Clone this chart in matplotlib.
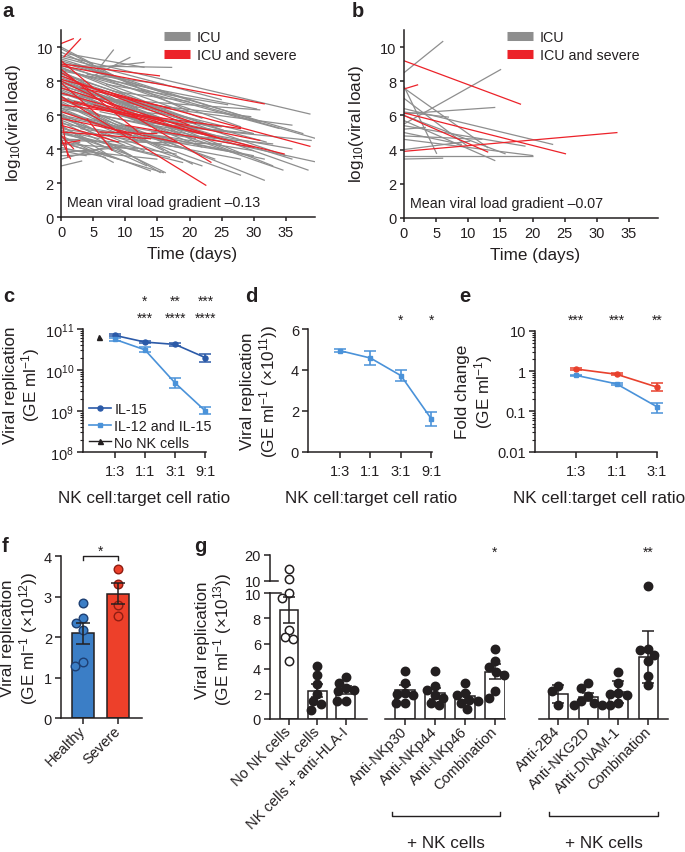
import numpy as np
import matplotlib
matplotlib.use("Agg")
import matplotlib.pyplot as plt
from matplotlib.lines import Line2D
from matplotlib.ticker import LogLocator, NullFormatter

plt.rcParams['font.family'] = ['Liberation Sans', 'DejaVu Sans']
plt.rcParams['mathtext.fontset'] = 'custom'
plt.rcParams['mathtext.rm'] = 'Liberation Sans'
plt.rcParams['mathtext.it'] = 'Liberation Sans:italic'
plt.rcParams['mathtext.bf'] = 'Liberation Sans:bold'
INK = '#231f20'
plt.rcParams['text.color'] = INK
plt.rcParams['axes.edgecolor'] = INK
plt.rcParams['axes.labelcolor'] = INK
plt.rcParams['xtick.color'] = INK
plt.rcParams['ytick.color'] = INK
plt.rcParams['axes.linewidth'] = 1.1
for k in ['xtick', 'ytick']:
    plt.rcParams[k + '.major.width'] = 1.1
    plt.rcParams[k + '.minor.width'] = 0.8
    plt.rcParams[k + '.labelsize'] = 10.5

# ---------------- data ----------------
# panels a/b: viral load trajectories (start day, start log10, end day, end log10)
icu_a = [
    (0, 9.9, 12, 7.6), (0, 9.7, 20, 6.2), (0, 9.5, 38.8, 6.05), (0, 9.4, 25, 6.9),
    (0, 9.3, 31, 5.6), (0, 9.2, 17, 7.2), (0, 9.1, 37.7, 4.9), (0, 9.0, 28, 5.3),
    (0, 8.9, 39.8, 4.6), (0, 8.8, 22, 5.8), (0, 8.8, 15, 6.5), (0, 8.7, 34, 5.2),
    (0, 8.6, 30.5, 6.35), (0, 8.5, 26, 5.0), (0, 8.4, 10, 7.2), (0, 8.3, 19, 5.9),
    (0, 8.2, 35, 3.6), (0, 8.1, 24, 4.6), (0, 8.0, 12, 6.4), (5.6, 8.6, 8.2, 9.85),
    (4.5, 8.2, 10.8, 9.4), (6.0, 8.8, 13, 9.1), (2, 8.9, 17.3, 8.8), (0, 7.9, 38.5, 2.75),
    (0, 7.8, 27, 3.8), (0, 7.7, 32, 4.4), (0, 7.6, 18, 4.8), (0, 7.5, 22, 4.1),
    (0, 7.4, 14, 5.3), (0, 7.3, 34.6, 2.75), (0, 7.2, 29.6, 5.9), (0, 7.1, 20.5, 3.1),
    (0, 7.0, 25, 5.0), (0, 6.9, 31.7, 2.15), (0, 6.8, 16, 3.9), (0, 6.7, 12, 4.5),
    (0, 6.6, 24, 3.4), (0, 6.5, 39.5, 3.25), (0, 6.4, 9, 5.0), (0, 6.3, 28, 2.45),
    (0, 6.2, 19, 4.3), (0, 6.1, 7, 4.8), (0, 6.0, 31.7, 3.4), (0, 6.0, 15.5, 2.6),
    (0, 5.9, 13, 3.9), (0, 5.8, 22, 3.0), (0, 5.7, 10, 4.2), (0, 5.6, 16.3, 2.6),
    (0, 5.5, 27, 3.8), (0, 5.4, 8, 3.5), (0, 5.3, 13.4, 3.0), (0, 5.2, 20, 4.0),
    (0, 5.1, 6, 4.6), (0, 5.0, 11, 3.6), (0, 4.9, 17, 3.5), (0, 4.8, 8.2, 3.2),
    (0, 4.7, 14, 2.7), (0, 4.6, 5, 4.5), (0, 4.5, 25, 4.3), (0, 4.4, 9, 3.4),
    (0, 4.3, 12, 4.0), (0, 4.2, 3, 4.4), (0, 4.1, 7, 3.5), (0, 4.0, 15, 3.4),
    (0, 3.9, 4, 3.6), (0, 3.8, 10, 4.1), (0, 3.6, 6, 3.7), (0, 3.0, 3.3, 3.3),
    (0, 3.4, 8, 4.2), (1, 8.0, 23, 5.4), (2, 7.5, 30, 4.9), (2, 6.8, 18, 5.2),
    (3, 7.2, 13, 5.6), (4, 6.5, 17, 6.0), (5, 7.0, 31, 6.3), (5, 5.8, 14, 4.6),
    (6, 6.2, 20, 5.1), (7, 7.8, 26, 6.6), (8, 6.8, 36, 5.4), (9, 5.4, 21, 4.6),
    (10, 6.0, 25, 5.3), (12, 5.6, 30, 4.9), (14, 5.0, 33, 4.3), (16, 5.4, 39, 4.5),
    (3, 5.2, 10, 4.8), (1, 9.6, 13, 8.8), (2, 9.0, 9, 8.2), (11, 4.6, 28, 3.4),
    (6, 4.4, 18, 3.7), (15, 4.8, 30, 3.9), (18, 5.2, 36, 4.0), (4, 8.4, 16, 7.8),
    (8, 7.4, 20, 6.8), (0, 10.0, 5, 9.0), (0, 8.6, 21, 4.4), (0, 7.0, 17, 4.2),
    (0, 6.4, 23, 4.8), (0, 5.9, 30, 3.6), (0, 5.0, 19, 3.2), (0, 4.4, 16, 2.6),
    (1, 7.0, 10, 4.9), (2, 6.0, 12, 4.4), (0, 8.0, 33, 3.0), (0, 7.6, 36, 3.4),
]
severe_a = [
    (0, 10.2, 2, 10.5), (0.4, 9.4, 3.1, 10.5), (0, 9.0, 15.4, 8.3), (0, 8.9, 31.7, 6.65),
    (0, 8.1, 38.8, 4.15), (0, 6.9, 34.8, 3.7), (0, 8.5, 23.4, 3.2), (0, 7.1, 22.6, 1.85),
    (0, 8.7, 12, 5.0), (0, 8.3, 20, 5.4), (0, 7.6, 25, 4.6), (0, 7.3, 16, 5.6),
    (0, 6.6, 28, 5.2), (0, 6.2, 11, 4.8), (0, 5.8, 18, 4.4), (0, 5.4, 9, 4.4),
    (0, 5.0, 14, 4.6), (0, 6.0, 1.1, 3.5), (0, 4.6, 1.5, 3.4), (0, 4.8, 2, 4.0),
    (0, 7.9, 6, 5.9), (0, 9.2, 5, 7.6), (2, 6.8, 13, 5.7), (3, 7.6, 17, 6.4),
    (5, 6.6, 24, 4.7), (7, 7.4, 21, 5.5), (9, 6.2, 31, 4.5), (10, 5.4, 30, 4.1),
    (4, 5.8, 8, 3.9), (0, 8.0, 10, 6.2), (6, 5.0, 15, 4.9), (0, 4.3, 3, 4.5),
]
icu_b = [
    (0, 8.5, 6.1, 10.35), (0, 5.5, 15.1, 8.7), (0, 6.1, 14.2, 6.47), (0, 7.6, 13.1, 4.1),
    (0, 6.4, 23.2, 4.3), (0, 6.0, 15.8, 3.75), (0, 5.7, 14.2, 3.35), (0, 7.0, 9.9, 4.2),
    (0, 7.7, 5.1, 3.75), (0, 4.6, 20.1, 3.65), (0, 3.65, 20, 3.65), (0, 3.45, 6.1, 3.5),
    (0, 5.2, 3.4, 5.3), (0, 4.8, 12.2, 4.6), (0, 4.0, 10.3, 4.5), (0, 5.4, 18.9, 4.2),
    (0, 6.2, 7, 5.9), (0, 5.0, 9, 4.3),
]
severe_b = [
    (0, 9.2, 18.2, 6.65), (0, 7.55, 2.2, 7.8), (0, 6.15, 25.2, 3.75), (0, 6.0, 13.1, 3.85),
    (0, 3.9, 33.2, 5.0),
]

# panel c: viral replication (GE/ml) vs NK:target ratio
ratios4 = ['1:3', '1:1', '3:1', '9:1']
il15 = [7.0e10, 4.8e10, 4.2e10, 2.0e10]
il15_lo = [6.6e10, 4.6e10, 3.9e10, 1.55e10]
il15_hi = [7.4e10, 5.0e10, 4.6e10, 2.5e10]
il12_15 = [5.6e10, 3.1e10, 4.8e9, 1.0e9]
il12_15_lo = [5.2e10, 2.7e10, 3.6e9, 0.85e9]
il12_15_hi = [6.0e10, 3.6e10, 6.3e9, 1.23e9]
no_nk_c = 6.3e10
stars_c_top = ['', '*', '**', '***']
stars_c_bot = ['', '***', '****', '****']

# panel d: viral replication (x10^11)
repl_d = [4.94, 4.58, 3.72, 1.6]
err_d = [0.08, 0.33, 0.28, 0.35]
stars_d = ['', '', '*', '*']

# panel e: fold change
ratios3 = ['1:3', '1:1', '3:1']
fold_red = [1.12, 0.83, 0.40]
fold_red_lo = [1.05, 0.78, 0.32]
fold_red_hi = [1.2, 0.88, 0.5]
fold_blue = [0.78, 0.48, 0.13]
fold_blue_lo = [0.74, 0.45, 0.093]
fold_blue_hi = [0.82, 0.51, 0.16]
stars_e = ['***', '***', '**']

# panel f: viral replication (x10^12)
groups_f = ['Healthy', 'Severe']
healthy_f = [2.85, 2.48, 2.35, 2.19, 1.40, 1.30]
severe_f = [3.68, 3.32, 2.80, 2.52]

# panel g: viral replication (x10^13)
labels_g1 = ['No NK cells', 'NK cells', 'NK cells + anti-HLA-I']
labels_g2 = ['Anti-NKp30', 'Anti-NKp44', 'Anti-NKp46', 'Combination']
labels_g3 = ['Anti-2B4', 'Anti-NKG2D', 'Anti-DNAM-1', 'Combination']
mean_g1 = [8.65, 2.25, 2.3]
err_g1 = [1.05, 0.5, 0.35]
mean_g2 = [2.3, 2.05, 1.8, 3.75]
err_g2 = [0.4, 0.45, 0.25, 0.6]
mean_g3 = [1.98, 1.75, 2.15, 4.95]
err_g3 = [0.73, 0.3, 0.9, 2.05]
pts_g1 = [[14.5, 10.6, 10.0, 9.6, 7.1, 6.5, 6.4, 4.6],
          [4.2, 3.5, 2.8, 2.0, 1.4, 1.2, 0.75],
          [3.35, 2.9, 2.45, 2.3, 2.2, 1.45, 1.4]]
pts_g2 = [[3.8, 2.9, 2.1, 2.0, 1.9, 1.3, 1.3],
          [3.8, 2.6, 2.3, 1.9, 1.7, 1.3, 1.1],
          [2.85, 2.1, 1.9, 1.5, 1.4, 1.3, 0.8],
          [5.6, 4.6, 4.1, 3.7, 3.5, 2.2, 1.7]]
pts_g3 = [[2.65, 2.2, 1.1],
          [2.85, 2.5, 1.8, 1.4, 1.3, 1.1, 1.1],
          [3.7, 2.9, 2.1, 2.0, 1.9, 1.3, 1.1],
          [10.6, 5.6, 5.5, 5.1, 4.6, 3.45, 2.7]]
stars_g2 = ['', '', '', '*']
stars_g3 = ['', '', '', '**']

# ---------------- styling ----------------
GRAY = '#8e8e8e'
RED = '#ec2229'
DARKBLUE = '#2b5aa8'
LIGHTBLUE = '#4a92d9'
ERED = '#e8412d'
FBLUE = '#3b7ec6'
FRED = '#ed402a'
LABEL_FS = 12.3
W, H = 685, 853

fig = plt.figure(figsize=(W / 100, H / 100), dpi=100)


def px_axes(x0, y0, x1, y1):
    ax = fig.add_axes([x0 / W, 1 - y1 / H, (x1 - x0) / W, (y1 - y0) / H])
    ax.patch.set_visible(False)
    for s in ['top', 'right']:
        ax.spines[s].set_visible(False)
    return ax


def panel_letter(x, y, s):
    fig.text(x / W, 1 - y / H, s, fontsize=14.5, fontweight='bold', va='baseline', ha='left')


def swarm(ax, x0, vals, diam):
    tr = ax.transData
    unit = tr.transform((x0 + 1, 0))[0] - tr.transform((x0, 0))[0]
    pts, xs = [], []
    for v in vals:
        y = tr.transform((x0, v))[1]
        cands = [0.0]
        for px, py in pts:
            dy = abs(y - py)
            if dy < diam:
                dx = np.sqrt(diam ** 2 - dy ** 2)
                cands += [px + dx, px - dx]
        cands.sort(key=lambda c: (round(abs(c), 3), c))
        for c in cands:
            if all((c - px) ** 2 + (y - py) ** 2 >= diam ** 2 - 1e-6 for px, py in pts):
                break
        pts.append((c, y))
        xs.append(x0 + c / unit)
    return xs


# ---------------- panels a, b ----------------
def trajectories(ax, icu, severe, grad):
    for t0, v0, t1, v1 in icu:
        ax.plot([t0, t1], [v0, v1], color=GRAY, lw=0.9, solid_capstyle='butt')
    for t0, v0, t1, v1 in severe:
        ax.plot([t0, t1], [v0, v1], color=RED, lw=0.9, solid_capstyle='butt')
    ax.set_xlim(0, 39.5)
    ax.set_ylim(0, 11)
    ax.set_xticks(range(0, 36, 5))
    ax.set_yticks(range(0, 11, 2))
    ax.tick_params(axis='both', length=3, pad=2.5)
    ax.set_xlabel('Time (days)', fontsize=LABEL_FS)
    ax.set_ylabel('log$_{10}$(viral load)', fontsize=LABEL_FS)
    ax.xaxis.set_label_coords(0.515, -0.155)
    ax.yaxis.set_label_coords(-0.15, 0.505)
    handles = [Line2D([], [], color=GRAY, lw=6.5, solid_capstyle='butt'),
               Line2D([], [], color=RED, lw=6.5, solid_capstyle='butt')]
    ax.legend(handles, ['ICU', 'ICU and severe'], loc='upper left',
              bbox_to_anchor=(0.405, 1.0), frameon=False, fontsize=10.3,
              handlelength=1.85, handletextpad=0.45, borderaxespad=0,
              borderpad=0, labelspacing=0.3)
    ax.text(0.022, 0.08, 'Mean viral load gradient \u2013' + grad, transform=ax.transAxes,
            va='center', ha='left', fontsize=10.3)


ax_a = px_axes(61, 31, 315, 218)
trajectories(ax_a, icu_a, severe_a, '0.13')
ax_b = px_axes(404, 31, 658, 219)
trajectories(ax_b, icu_b, severe_b, '0.07')
panel_letter(2.5, 16.7, 'a')
panel_letter(352, 16.7, 'b')


def ratio_axis(ax, labels):
    pos = np.arange(1, len(labels) + 1)
    ax.set_xticks(pos)
    ax.set_xticklabels(labels)
    ax.set_xlim(-0.05, len(labels) + 0.02)
    ax.tick_params(axis='x', length=4.5, pad=4)
    ax.tick_params(axis='y', which='major', length=4, pad=2.5)
    ax.set_xlabel('NK cell:target cell ratio', fontsize=LABEL_FS)
    return pos


def star_row(ax, pos, marks, yfrac):
    for x, s in zip(pos, marks):
        if s:
            ax.text(x, yfrac, s, transform=ax.get_xaxis_transform(), ha='center',
                    va='baseline', fontsize=10)


# ---------------- panel c ----------------
ax_c = px_axes(83, 330, 206, 453)
pos = ratio_axis(ax_c, ratios4)
ax_c.set_yscale('log')
ax_c.set_ylim(1e8, 1e11)
ax_c.yaxis.set_major_locator(LogLocator(base=10, numticks=10))
ax_c.yaxis.set_minor_locator(LogLocator(base=10, subs=np.arange(2, 10), numticks=10))
ax_c.yaxis.set_minor_formatter(NullFormatter())
ax_c.tick_params(axis='y', which='minor', length=2)
il15_a = np.array(il15)
il12_a = np.array(il12_15)
ax_c.errorbar(pos, il15_a, yerr=[il15_a - np.array(il15_lo), np.array(il15_hi) - il15_a],
              color=DARKBLUE, marker='o', ms=3.6, lw=1.2, capsize=4, capthick=1.1, clip_on=False)
ax_c.errorbar(pos, il12_a, yerr=[il12_a - np.array(il12_15_lo), np.array(il12_15_hi) - il12_a],
              color=LIGHTBLUE, marker='s', ms=3.4, lw=1.2, capsize=4, capthick=1.1, clip_on=False)
ax_c.plot([0.48], [no_nk_c], marker='^', color=INK, ms=3.6, ls='none', clip_on=False)
ax_c.set_ylabel('Viral replication\n(GE ml$^{-1}$)', fontsize=LABEL_FS, linespacing=1.1)
ax_c.yaxis.set_label_coords(-0.33, 0.55)
ax_c.xaxis.set_label_coords(0.5, -0.31)
hc = [Line2D([], [], color=DARKBLUE, marker='o', ms=3.6, lw=1.2),
      Line2D([], [], color=LIGHTBLUE, marker='s', ms=3.4, lw=1.2),
      Line2D([], [], color=INK, marker='^', ms=3.6, lw=1.0)]
ax_c.legend(hc, ['IL-15', 'IL-12 and IL-15', 'No NK cells'], loc='lower left',
            bbox_to_anchor=(0.05, 0.02), frameon=False, fontsize=10.4, handlelength=1.5,
            handletextpad=0.25, borderaxespad=0, borderpad=0, labelspacing=0.18)
star_row(ax_c, pos, stars_c_top, 1.2)
star_row(ax_c, pos, stars_c_bot, 1.055)
panel_letter(3, 301.7, 'c')

# ---------------- panel d ----------------
ax_d = px_axes(308, 330, 432, 452.7)
pos = ratio_axis(ax_d, ratios4)
ax_d.set_ylim(0, 6)
ax_d.set_yticks([0, 2, 4, 6])
ax_d.errorbar(pos, repl_d, yerr=err_d, color=LIGHTBLUE, marker='s', ms=3.4, lw=1.2,
              capsize=4, capthick=1.1, clip_on=False)
ax_d.set_ylabel('Viral replication\n(GE ml$^{-1}$ (\u00d710$^{11}$))', fontsize=LABEL_FS,
                linespacing=1.1)
ax_d.yaxis.set_label_coords(-0.225, 0.5)
ax_d.xaxis.set_label_coords(0.51, -0.31)
star_row(ax_d, pos, stars_d, 1.045)
panel_letter(245, 301.7, 'd')

# ---------------- panel e ----------------
ax_e = px_axes(535, 331.7, 657, 452.7)
pos = ratio_axis(ax_e, ratios3)
ax_e.set_xlim(-0.02, 3.0)
ax_e.set_yscale('log')
ax_e.set_ylim(0.01, 10)
ax_e.set_yticks([0.01, 0.1, 1, 10])
ax_e.set_yticklabels(['0.01', '0.1', '1', '10'])
ax_e.yaxis.set_minor_locator(LogLocator(base=10, subs=np.arange(2, 10), numticks=10))
ax_e.yaxis.set_minor_formatter(NullFormatter())
ax_e.tick_params(axis='y', which='minor', length=2)
fr = np.array(fold_red)
fb = np.array(fold_blue)
ax_e.errorbar(pos, fr, yerr=[fr - np.array(fold_red_lo), np.array(fold_red_hi) - fr],
              color=ERED, marker='o', ms=3.6, lw=1.2, capsize=4, capthick=1.1, clip_on=False)
ax_e.errorbar(pos, fb, yerr=[fb - np.array(fold_blue_lo), np.array(fold_blue_hi) - fb],
              color=LIGHTBLUE, marker='s', ms=3.4, lw=1.2, capsize=4, capthick=1.1, clip_on=False)
ax_e.set_ylabel('Fold change\n(GE ml$^{-1}$)', fontsize=LABEL_FS, linespacing=1.1)
ax_e.yaxis.set_label_coords(-0.33, 0.5)
ax_e.xaxis.set_label_coords(0.525, -0.315)
star_row(ax_e, pos, stars_e, 1.06)
panel_letter(459, 301.7, 'e')

# ---------------- panel f ----------------
ax_f = px_axes(61, 557.3, 141.7, 719.3)
xf = np.arange(len(groups_f))
f_sets = [healthy_f, severe_f]
f_cols = [FBLUE, FRED]
f_edges = ['#1d3f73', '#8e1d12']
means_f = [np.mean(v) for v in f_sets]
sems_f = [np.std(v, ddof=1) / np.sqrt(len(v)) for v in f_sets]
ax_f.set_xlim(-0.637, 1.669)
ax_f.set_ylim(0, 4)
ax_f.bar(xf, means_f, width=0.63, color=f_cols, edgecolor=INK, lw=1.1, zorder=1)
for i, vals in enumerate(f_sets):
    xs = swarm(ax_f, xf[i], vals, 9.0)
    ax_f.plot(xs, vals, 'o', ms=6.2, mfc=f_cols[i], mec=f_edges[i], mew=1.0,
              zorder=2, clip_on=False)
ax_f.errorbar(xf, means_f, yerr=sems_f, fmt='none', ecolor=INK, elinewidth=1.1,
              capsize=5, capthick=1.1, zorder=3)
ax_f.set_yticks([0, 1, 2, 3, 4])
ax_f.set_xticks(xf)
ax_f.set_xticklabels(groups_f, rotation=45, ha='right', va='center', rotation_mode='anchor')
ax_f.tick_params(axis='y', length=4, pad=2.5)
ax_f.tick_params(axis='x', length=4, pad=3)
ax_f.plot([0, 0, 1, 1], [3.9, 4.0, 4.0, 3.9], color=INK, lw=1.0, clip_on=False)
ax_f.text(0.5, 4.03, '*', ha='center', va='baseline', fontsize=10)
ax_f.set_ylabel('Viral replication\n(GE ml$^{-1}$ (\u00d710$^{12}$))', fontsize=LABEL_FS,
                linespacing=1.1)
ax_f.yaxis.set_label_coords(-0.265, 0.5)
panel_letter(1.5, 551.7, 'f')

# ---------------- panel g ----------------
g_tops = 581.7
g_bot = 720
ax_g1 = px_axes(270, g_tops, 366.7, g_bot)
ax_g2 = px_axes(385, g_tops, 505, g_bot)
ax_g3 = px_axes(539.3, g_tops, 668.3, g_bot)
ax_gu = px_axes(270, 556, 366.7, g_tops)
ax_g1.set_xlim(-0.67, 2.74)
ax_g2.set_xlim(-0.667, 3.333)
ax_g3.set_xlim(-0.633, 3.667)
ax_gu.set_xlim(-0.67, 2.74)
for ax in [ax_g1, ax_g2, ax_g3]:
    ax.set_ylim(0, 11)
ax_gu.set_ylim(10, 20)

g_sets = [(ax_g1, labels_g1, mean_g1, err_g1, pts_g1),
          (ax_g2, labels_g2, mean_g2, err_g2, pts_g2),
          (ax_g3, labels_g3, mean_g3, err_g3, pts_g3)]
for ax, labels, means, errs, pts in g_sets:
    xg = np.arange(len(labels))
    ax.bar(xg, means, width=0.65, color='white', edgecolor=INK, lw=1.1, zorder=1)
    for i, vals in enumerate(pts):
        open_pts = ax is ax_g1 and i == 0
        low = [v for v in vals if v <= 10.05 or not open_pts]
        xs = swarm(ax, xg[i], low, 8.6)
        ax.plot(xs, low, 'o', ms=6.0, mfc='white' if open_pts else INK, mec=INK,
                mew=1.1, zorder=2, clip_on=False)
        if open_pts:
            high = [v for v in vals if v > 10.05]
            xs = swarm(ax_gu, xg[i], high, 8.6)
            ax_gu.plot(xs, high, 'o', ms=6.0, mfc='white', mec=INK, mew=1.1,
                       zorder=2, clip_on=False)
    ax.errorbar(xg, means, yerr=errs, fmt='none', ecolor=INK, elinewidth=1.1,
                capsize=4.5, capthick=1.1, zorder=3, clip_on=False)
    ax.set_xticks(xg)
    ax.set_xticklabels(labels, rotation=45, ha='right', va='center', rotation_mode='anchor',
                       fontsize=10.5)
    ax.tick_params(axis='x', length=4, pad=3)

ax_g1.spines['left'].set_bounds(0, 10)
ax_g1.set_yticks([0, 2, 4, 6, 8, 10])
ax_g1.tick_params(axis='y', length=4, pad=2.5)
for ax in [ax_g2, ax_g3]:
    ax.spines['left'].set_visible(False)
    ax.set_yticks([])
ax_gu.spines['bottom'].set_visible(False)
ax_gu.set_xticks([])
ax_gu.set_yticks([10, 20])
ax_gu.tick_params(axis='y', length=4, pad=2.5)
# axis break marks
ax_g1.plot([0, 0.11], [10, 10], color=INK, lw=1.1, transform=ax_g1.get_yaxis_transform(),
           clip_on=False)
ax_gu.plot([0, 0.08], [10, 10], color=INK, lw=1.1, transform=ax_gu.get_yaxis_transform(),
           clip_on=False)

for ax, marks in [(ax_g2, stars_g2), (ax_g3, stars_g3)]:
    for x, s in enumerate(marks):
        if s:
            ax.text(x, 13.0, s, ha='center', va='baseline', fontsize=10, clip_on=False)

# "+ NK cells" brackets
for ax, x0, x1 in [(ax_g2, -0.443, 3.17), (ax_g3, -0.31, 3.32)]:
    tr = ax.get_xaxis_transform()
    ax.plot([x0, x0, x1, x1], [-0.67, -0.70, -0.70, -0.67], color=INK, lw=1.0,
            transform=tr, clip_on=False)
    ax.text((x0 + x1) / 2, -0.89, '+ NK cells', transform=tr, ha='center', va='center',
            fontsize=LABEL_FS)

ax_g1.set_ylabel('Viral replication\n(GE ml$^{-1}$ (\u00d710$^{13}$))', fontsize=LABEL_FS,
                 linespacing=1.1)
ax_g1.yaxis.set_label_coords(-0.37, 0.58)
panel_letter(194, 552, 'g')

fig.savefig('out.png', dpi=100)
